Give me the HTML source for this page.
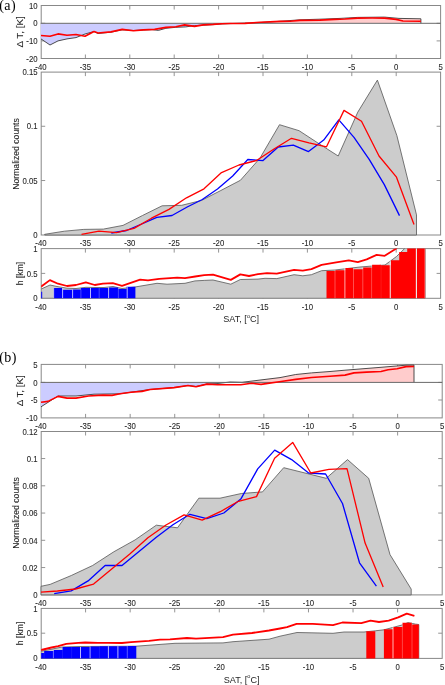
<!DOCTYPE html>
<html><head><meta charset="utf-8"><style>
html,body{margin:0;padding:0;background:#fff;width:445px;height:685px;overflow:hidden}
svg{display:block;filter:blur(0.3px)}
</style></head><body>
<svg width="445" height="685" viewBox="0 0 445 685">
<rect width="445" height="685" fill="#fff"/>
<path d="M85.40,58.5v-4M85.40,5.5v4M129.80,58.5v-4M129.80,5.5v4M174.20,58.5v-4M174.20,5.5v4M218.60,58.5v-4M218.60,5.5v4M263.00,58.5v-4M263.00,5.5v4M307.40,58.5v-4M307.40,5.5v4M351.80,58.5v-4M351.80,5.5v4M396.20,58.5v-4M396.20,5.5v4M41.2,23.30h4M440.6,23.30h-4M41.2,40.90h4M440.6,40.90h-4" stroke="#888888" stroke-width="0.9" fill="none"/>
<rect x="41.2" y="5.5" width="399.40" height="53.00" fill="none" stroke="#888888" stroke-width="1"/>
<clipPath id="c1"><rect x="40.6" y="5.5" width="399.40" height="17.80"/></clipPath>
<clipPath id="c2"><rect x="40.6" y="23.3" width="399.40" height="35.20"/></clipPath>
<polygon points="40.50,23.30 40.50,38.90 41.00,38.90 50.00,45.00 58.00,40.90 67.00,38.90 76.00,37.60 85.00,34.00 94.00,31.50 98.00,33.50 111.00,32.20 122.20,29.80 133.40,30.50 143.40,30.00 152.00,29.60 158.40,30.40 165.90,28.30 175.80,27.30 185.80,26.90 194.50,25.60 203.30,25.20 213.20,24.60 222.00,23.90 230.00,23.60 260.00,22.60 280.00,21.30 300.00,19.80 320.00,19.20 340.00,18.40 357.60,17.40 384.50,17.10 399.00,18.40 420.90,18.80 420.90,23.30" fill="#ffcccc" clip-path="url(#c1)"/>
<polygon points="40.50,23.30 40.50,38.90 41.00,38.90 50.00,45.00 58.00,40.90 67.00,38.90 76.00,37.60 85.00,34.00 94.00,31.50 98.00,33.50 111.00,32.20 122.20,29.80 133.40,30.50 143.40,30.00 152.00,29.60 158.40,30.40 165.90,28.30 175.80,27.30 185.80,26.90 194.50,25.60 203.30,25.20 213.20,24.60 222.00,23.90 230.00,23.60 260.00,22.60 280.00,21.30 300.00,19.80 320.00,19.20 340.00,18.40 357.60,17.40 384.50,17.10 399.00,18.40 420.90,18.80 420.90,23.30" fill="#ccccff" clip-path="url(#c2)"/>
<polyline points="41.00,38.90 50.00,45.00 58.00,40.90 67.00,38.90 76.00,37.60 85.00,34.00 94.00,31.50 98.00,33.50 111.00,32.20 122.20,29.80 133.40,30.50 143.40,30.00 152.00,29.60 158.40,30.40 165.90,28.30 175.80,27.30 185.80,26.90 194.50,25.60 203.30,25.20 213.20,24.60 222.00,23.90 230.00,23.60 260.00,22.60 280.00,21.30 300.00,19.80 320.00,19.20 340.00,18.40 357.60,17.40 384.50,17.10 399.00,18.40 420.90,18.80 420.90,23.30" fill="none" stroke="#3a3a3a" stroke-width="0.9"/>
<line x1="40.7" y1="23.3" x2="440.6" y2="23.3" stroke="#6a6a6a" stroke-width="1"/>
<polyline points="41.00,35.50 50.00,36.20 58.00,33.90 67.00,35.30 76.00,34.50 85.00,36.20 94.00,31.50 98.00,33.00 111.00,31.90 122.20,29.40 133.40,30.70 143.40,29.90 154.60,29.40 165.90,27.40 175.80,26.70 184.60,24.90 194.50,26.40 203.30,24.90 213.20,24.40 222.00,23.70 230.00,23.50 245.00,23.40 260.00,22.30 280.00,21.40 290.00,21.20 300.00,20.40 320.00,20.10 335.00,19.40 345.00,19.00 357.60,18.10 372.00,18.00 384.50,18.10 396.00,19.40 403.00,21.00 420.90,21.20" fill="none" stroke="#ff0000" stroke-width="1.6" stroke-linejoin="round"/>
<text x="0" y="0" font-size="7.8" text-anchor="end" dominant-baseline="central" font-family="Liberation Sans" fill="#262626" stroke="#262626" stroke-width="0.08" transform="translate(37.60 5.50) scale(1 1.15)">10</text>
<text x="0" y="0" font-size="7.8" text-anchor="end" dominant-baseline="central" font-family="Liberation Sans" fill="#262626" stroke="#262626" stroke-width="0.08" transform="translate(37.60 23.20) scale(1 1.15)">0</text>
<text x="0" y="0" font-size="7.8" text-anchor="end" dominant-baseline="central" font-family="Liberation Sans" fill="#262626" stroke="#262626" stroke-width="0.08" transform="translate(37.60 40.90) scale(1 1.15)">-10</text>
<text x="0" y="0" font-size="7.8" text-anchor="end" dominant-baseline="central" font-family="Liberation Sans" fill="#262626" stroke="#262626" stroke-width="0.08" transform="translate(37.60 58.50) scale(1 1.15)">-20</text>
<text x="0" y="0" font-size="8.4" text-anchor="middle" dominant-baseline="central" font-family="Liberation Sans" fill="#262626" stroke="#262626" stroke-width="0.08" transform="translate(20.00 31.90) scale(1 1.17) rotate(-90)">&#916; T, [K]</text>
<text x="0" y="0" font-size="7.8" text-anchor="middle" dominant-baseline="central" font-family="Liberation Sans" fill="#262626" stroke="#262626" stroke-width="0.08" transform="translate(41.00 67.00) scale(1 1.15)">-40</text>
<text x="0" y="0" font-size="7.8" text-anchor="middle" dominant-baseline="central" font-family="Liberation Sans" fill="#262626" stroke="#262626" stroke-width="0.08" transform="translate(85.40 67.00) scale(1 1.15)">-35</text>
<text x="0" y="0" font-size="7.8" text-anchor="middle" dominant-baseline="central" font-family="Liberation Sans" fill="#262626" stroke="#262626" stroke-width="0.08" transform="translate(129.80 67.00) scale(1 1.15)">-30</text>
<text x="0" y="0" font-size="7.8" text-anchor="middle" dominant-baseline="central" font-family="Liberation Sans" fill="#262626" stroke="#262626" stroke-width="0.08" transform="translate(174.20 67.00) scale(1 1.15)">-25</text>
<text x="0" y="0" font-size="7.8" text-anchor="middle" dominant-baseline="central" font-family="Liberation Sans" fill="#262626" stroke="#262626" stroke-width="0.08" transform="translate(218.60 67.00) scale(1 1.15)">-20</text>
<text x="0" y="0" font-size="7.8" text-anchor="middle" dominant-baseline="central" font-family="Liberation Sans" fill="#262626" stroke="#262626" stroke-width="0.08" transform="translate(263.00 67.00) scale(1 1.15)">-15</text>
<text x="0" y="0" font-size="7.8" text-anchor="middle" dominant-baseline="central" font-family="Liberation Sans" fill="#262626" stroke="#262626" stroke-width="0.08" transform="translate(307.40 67.00) scale(1 1.15)">-10</text>
<text x="0" y="0" font-size="7.8" text-anchor="middle" dominant-baseline="central" font-family="Liberation Sans" fill="#262626" stroke="#262626" stroke-width="0.08" transform="translate(351.80 67.00) scale(1 1.15)">-5</text>
<text x="0" y="0" font-size="7.8" text-anchor="middle" dominant-baseline="central" font-family="Liberation Sans" fill="#262626" stroke="#262626" stroke-width="0.08" transform="translate(396.20 67.00) scale(1 1.15)">0</text>
<text x="0" y="0" font-size="7.8" text-anchor="middle" dominant-baseline="central" font-family="Liberation Sans" fill="#262626" stroke="#262626" stroke-width="0.08" transform="translate(440.60 67.00) scale(1 1.15)">5</text>
<text x="0" y="0" font-size="14" text-anchor="start" dominant-baseline="central" font-family="Liberation Serif" fill="#000" transform="translate(-0.80 5.40) scale(1 1.0)" letter-spacing="0.5">(a)</text>
<path d="M85.40,235.0v-4M85.40,72.1v4M129.80,235.0v-4M129.80,72.1v4M174.20,235.0v-4M174.20,72.1v4M218.60,235.0v-4M218.60,72.1v4M263.00,235.0v-4M263.00,72.1v4M307.40,235.0v-4M307.40,72.1v4M351.80,235.0v-4M351.80,72.1v4M396.20,235.0v-4M396.20,72.1v4M41.2,180.53h4M440.6,180.53h-4M41.2,126.27h4M440.6,126.27h-4" stroke="#888888" stroke-width="0.9" fill="none"/>
<rect x="41.2" y="72.1" width="399.40" height="162.90" fill="none" stroke="#888888" stroke-width="1"/>
<polygon points="44.70,235.00 44.70,234.30 64.30,231.20 83.80,229.40 103.40,229.10 123.00,225.40 142.50,215.50 162.10,205.80 181.70,205.30 201.30,200.50 220.80,190.50 240.40,180.30 260.00,158.10 279.50,124.70 299.10,130.70 318.70,143.50 338.20,156.00 357.80,112.10 377.40,80.10 396.90,135.70 416.50,214.90 416.50,235.00" fill="#cccccc" stroke="#555555" stroke-width="0.8"/>
<polyline points="111.30,233.00 126.50,230.50 141.70,224.00 156.80,217.30 172.00,215.50 187.20,207.00 202.30,199.50 217.50,189.00 232.70,176.00 247.80,159.50 263.00,160.60 278.20,147.00 293.30,145.20 308.50,151.60 323.70,140.10 338.80,119.90 354.00,137.40 369.20,159.30 384.30,184.60 399.50,215.60" fill="none" stroke="#0000ff" stroke-width="1.3" stroke-linejoin="round"/>
<polyline points="81.50,234.30 99.00,231.10 116.50,232.60 134.00,228.40 151.50,218.20 169.00,209.40 186.50,197.80 204.00,188.80 221.50,172.60 239.00,165.00 256.50,160.50 274.00,149.00 291.50,138.30 309.00,142.80 326.50,146.80 344.00,110.40 361.50,121.20 379.00,156.00 396.50,177.20 414.00,224.40" fill="none" stroke="#ff0000" stroke-width="1.3" stroke-linejoin="round"/>
<text x="0" y="0" font-size="7.8" text-anchor="end" dominant-baseline="central" font-family="Liberation Sans" fill="#262626" stroke="#262626" stroke-width="0.08" transform="translate(37.60 72.00) scale(1 1.15)">0.15</text>
<text x="0" y="0" font-size="7.8" text-anchor="end" dominant-baseline="central" font-family="Liberation Sans" fill="#262626" stroke="#262626" stroke-width="0.08" transform="translate(37.60 126.27) scale(1 1.15)">0.1</text>
<text x="0" y="0" font-size="7.8" text-anchor="end" dominant-baseline="central" font-family="Liberation Sans" fill="#262626" stroke="#262626" stroke-width="0.08" transform="translate(37.60 180.53) scale(1 1.15)">0.05</text>
<text x="0" y="0" font-size="7.8" text-anchor="end" dominant-baseline="central" font-family="Liberation Sans" fill="#262626" stroke="#262626" stroke-width="0.08" transform="translate(37.60 234.80) scale(1 1.15)">0</text>
<text x="0" y="0" font-size="8.65" text-anchor="middle" dominant-baseline="central" font-family="Liberation Sans" fill="#262626" stroke="#262626" stroke-width="0.08" transform="translate(15.80 154.00) scale(1 1.0) rotate(-90)">Normalized counts</text>
<text x="0" y="0" font-size="7.8" text-anchor="middle" dominant-baseline="central" font-family="Liberation Sans" fill="#262626" stroke="#262626" stroke-width="0.08" transform="translate(41.00 242.70) scale(1 1.15)">-40</text>
<text x="0" y="0" font-size="7.8" text-anchor="middle" dominant-baseline="central" font-family="Liberation Sans" fill="#262626" stroke="#262626" stroke-width="0.08" transform="translate(85.40 242.70) scale(1 1.15)">-35</text>
<text x="0" y="0" font-size="7.8" text-anchor="middle" dominant-baseline="central" font-family="Liberation Sans" fill="#262626" stroke="#262626" stroke-width="0.08" transform="translate(129.80 242.70) scale(1 1.15)">-30</text>
<text x="0" y="0" font-size="7.8" text-anchor="middle" dominant-baseline="central" font-family="Liberation Sans" fill="#262626" stroke="#262626" stroke-width="0.08" transform="translate(174.20 242.70) scale(1 1.15)">-25</text>
<text x="0" y="0" font-size="7.8" text-anchor="middle" dominant-baseline="central" font-family="Liberation Sans" fill="#262626" stroke="#262626" stroke-width="0.08" transform="translate(218.60 242.70) scale(1 1.15)">-20</text>
<text x="0" y="0" font-size="7.8" text-anchor="middle" dominant-baseline="central" font-family="Liberation Sans" fill="#262626" stroke="#262626" stroke-width="0.08" transform="translate(263.00 242.70) scale(1 1.15)">-15</text>
<text x="0" y="0" font-size="7.8" text-anchor="middle" dominant-baseline="central" font-family="Liberation Sans" fill="#262626" stroke="#262626" stroke-width="0.08" transform="translate(307.40 242.70) scale(1 1.15)">-10</text>
<text x="0" y="0" font-size="7.8" text-anchor="middle" dominant-baseline="central" font-family="Liberation Sans" fill="#262626" stroke="#262626" stroke-width="0.08" transform="translate(351.80 242.70) scale(1 1.15)">-5</text>
<text x="0" y="0" font-size="7.8" text-anchor="middle" dominant-baseline="central" font-family="Liberation Sans" fill="#262626" stroke="#262626" stroke-width="0.08" transform="translate(396.20 242.70) scale(1 1.15)">0</text>
<text x="0" y="0" font-size="7.8" text-anchor="middle" dominant-baseline="central" font-family="Liberation Sans" fill="#262626" stroke="#262626" stroke-width="0.08" transform="translate(440.60 242.70) scale(1 1.15)">5</text>
<path d="M85.40,298.3v-4M85.40,248.6v4M129.80,298.3v-4M129.80,248.6v4M174.20,298.3v-4M174.20,248.6v4M218.60,298.3v-4M218.60,248.6v4M263.00,298.3v-4M263.00,248.6v4M307.40,298.3v-4M307.40,248.6v4M351.80,298.3v-4M351.80,248.6v4M396.20,298.3v-4M396.20,248.6v4M41.2,273.40h4M440.6,273.40h-4" stroke="#888888" stroke-width="0.9" fill="none"/>
<rect x="41.2" y="248.6" width="399.40" height="49.70" fill="none" stroke="#888888" stroke-width="1"/>
<clipPath id="c3"><rect x="41.2" y="248.6" width="399.40" height="49.70"/></clipPath>
<g clip-path="url(#c3)">
<polygon points="41.00,298.30 41.00,289.10 50.00,285.00 58.00,286.70 67.00,288.20 76.00,288.50 86.00,287.30 95.00,287.50 104.00,287.50 113.00,286.50 122.00,288.50 135.00,287.00 157.00,283.30 167.00,284.20 185.00,283.30 195.00,280.90 204.20,280.40 213.00,280.00 230.80,284.20 240.30,279.50 258.00,279.10 265.00,278.30 276.80,278.60 294.10,274.70 302.80,275.80 311.40,274.70 321.60,270.70 335.00,270.00 360.00,267.00 385.00,265.00 396.50,256.50 405.20,248.00 425.20,248.00 425.20,298.30" fill="#cccccc" stroke="#555555" stroke-width="0.8"/>
<path d="M40.60,299.3L40.60,291.70L42.20,291.70L42.20,299.3ZM53.70,299.3L53.70,287.90L62.70,287.90L62.70,289.80L72.50,289.80L72.50,289.50L80.90,289.50L80.90,287.90L90.40,287.90L90.40,288.00L99.20,288.00L99.20,288.00L108.50,288.00L108.50,287.40L118.40,287.40L118.40,288.90L126.50,288.90L126.50,286.70L135.40,286.70L135.40,299.3Z" fill="#0000ff"/>
<path d="M326.50,299.3L326.50,271.10L335.30,271.10L335.30,270.20L345.20,270.20L345.20,268.00L353.30,268.00L353.30,269.30L363.10,269.30L363.10,267.50L372.10,267.50L372.10,264.80L381.10,264.80L381.10,265.30L390.40,265.30L390.40,299.3ZM390.90,299.3L390.90,260.20L399.20,260.20L399.20,252.10L407.20,252.10L407.20,248.00L416.00,248.00L416.00,299.3ZM417.00,299.3L417.00,248.00L425.20,248.00L425.20,299.3Z" fill="#ff0000"/>
<line x1="53.70" y1="287.90" x2="53.70" y2="298.3" stroke="#ffffff" stroke-opacity="0.5" stroke-width="0.9"/>
<line x1="62.60" y1="287.90" x2="62.60" y2="298.3" stroke="#ffffff" stroke-opacity="0.8" stroke-width="0.9"/>
<line x1="72.60" y1="289.50" x2="72.60" y2="298.3" stroke="#ffffff" stroke-opacity="0.8" stroke-width="0.9"/>
<line x1="80.90" y1="289.50" x2="80.90" y2="298.3" stroke="#ffffff" stroke-opacity="0.3" stroke-width="0.9"/>
<line x1="90.50" y1="287.90" x2="90.50" y2="298.3" stroke="#ffffff" stroke-opacity="0.8" stroke-width="0.9"/>
<line x1="99.20" y1="288.00" x2="99.20" y2="298.3" stroke="#ffffff" stroke-opacity="0.3" stroke-width="0.9"/>
<line x1="108.60" y1="287.40" x2="108.60" y2="298.3" stroke="#ffffff" stroke-opacity="0.8" stroke-width="0.9"/>
<line x1="118.40" y1="287.40" x2="118.40" y2="298.3" stroke="#ffffff" stroke-opacity="0.3" stroke-width="0.9"/>
<line x1="127.20" y1="286.70" x2="127.20" y2="298.3" stroke="#ffffff" stroke-opacity="0.8" stroke-width="0.9"/>
<line x1="335.00" y1="270.20" x2="335.00" y2="298.3" stroke="#ffffff" stroke-opacity="0.35" stroke-width="0.9"/>
<line x1="344.90" y1="268.00" x2="344.90" y2="298.3" stroke="#ffffff" stroke-opacity="0.75" stroke-width="0.9"/>
<line x1="353.50" y1="268.00" x2="353.50" y2="298.3" stroke="#ffffff" stroke-opacity="0.35" stroke-width="0.9"/>
<line x1="362.80" y1="267.50" x2="362.80" y2="298.3" stroke="#ffffff" stroke-opacity="0.35" stroke-width="0.9"/>
<line x1="371.60" y1="264.80" x2="371.60" y2="298.3" stroke="#ffffff" stroke-opacity="0.3" stroke-width="0.9"/>
<line x1="381.10" y1="264.80" x2="381.10" y2="298.3" stroke="#ffffff" stroke-opacity="0.1" stroke-width="0.9"/>
<line x1="390.20" y1="260.20" x2="390.20" y2="298.3" stroke="#ffffff" stroke-opacity="0.8" stroke-width="0.9"/>
<line x1="399.20" y1="252.10" x2="399.20" y2="298.3" stroke="#ffffff" stroke-opacity="0.0" stroke-width="0.9"/>
<line x1="407.20" y1="248.00" x2="407.20" y2="298.3" stroke="#ffffff" stroke-opacity="0.0" stroke-width="0.9"/>
<line x1="416.30" y1="248.00" x2="416.30" y2="298.3" stroke="#ffffff" stroke-opacity="0.8" stroke-width="0.9"/>
<line x1="425.00" y1="248.00" x2="425.00" y2="298.3" stroke="#ffffff" stroke-opacity="0.5" stroke-width="0.9"/>
<polyline points="41.00,286.70 49.90,280.10 58.00,283.70 67.00,286.00 76.00,285.00 85.80,282.40 94.80,285.00 102.90,283.70 112.80,283.10 122.00,285.80 140.10,279.70 148.00,280.40 159.20,278.80 177.20,277.70 185.00,278.10 195.20,276.50 204.20,275.20 213.00,274.60 230.80,279.90 240.30,274.40 249.00,276.00 258.00,274.20 267.00,273.10 276.80,273.60 294.10,269.90 302.80,270.70 311.40,269.20 321.60,264.80 336.20,262.40 348.80,260.30 357.80,262.10 366.70,259.40 376.60,254.90 384.70,255.80 395.50,249.00 397.00,248.00" fill="none" stroke="#ff0000" stroke-width="1.8" stroke-linejoin="round"/>
</g>
<text x="0" y="0" font-size="7.8" text-anchor="end" dominant-baseline="central" font-family="Liberation Sans" fill="#262626" stroke="#262626" stroke-width="0.08" transform="translate(37.60 248.80) scale(1 1.15)">1</text>
<text x="0" y="0" font-size="7.8" text-anchor="end" dominant-baseline="central" font-family="Liberation Sans" fill="#262626" stroke="#262626" stroke-width="0.08" transform="translate(37.60 273.40) scale(1 1.15)">0.5</text>
<text x="0" y="0" font-size="7.8" text-anchor="end" dominant-baseline="central" font-family="Liberation Sans" fill="#262626" stroke="#262626" stroke-width="0.08" transform="translate(37.60 298.00) scale(1 1.15)">0</text>
<text x="0" y="0" font-size="8.65" text-anchor="middle" dominant-baseline="central" font-family="Liberation Sans" fill="#262626" stroke="#262626" stroke-width="0.08" transform="translate(19.90 273.50) scale(1 1.0) rotate(-90)">h [km]</text>
<text x="0" y="0" font-size="7.8" text-anchor="middle" dominant-baseline="central" font-family="Liberation Sans" fill="#262626" stroke="#262626" stroke-width="0.08" transform="translate(41.00 306.40) scale(1 1.15)">-40</text>
<text x="0" y="0" font-size="7.8" text-anchor="middle" dominant-baseline="central" font-family="Liberation Sans" fill="#262626" stroke="#262626" stroke-width="0.08" transform="translate(85.40 306.40) scale(1 1.15)">-35</text>
<text x="0" y="0" font-size="7.8" text-anchor="middle" dominant-baseline="central" font-family="Liberation Sans" fill="#262626" stroke="#262626" stroke-width="0.08" transform="translate(129.80 306.40) scale(1 1.15)">-30</text>
<text x="0" y="0" font-size="7.8" text-anchor="middle" dominant-baseline="central" font-family="Liberation Sans" fill="#262626" stroke="#262626" stroke-width="0.08" transform="translate(174.20 306.40) scale(1 1.15)">-25</text>
<text x="0" y="0" font-size="7.8" text-anchor="middle" dominant-baseline="central" font-family="Liberation Sans" fill="#262626" stroke="#262626" stroke-width="0.08" transform="translate(218.60 306.40) scale(1 1.15)">-20</text>
<text x="0" y="0" font-size="7.8" text-anchor="middle" dominant-baseline="central" font-family="Liberation Sans" fill="#262626" stroke="#262626" stroke-width="0.08" transform="translate(263.00 306.40) scale(1 1.15)">-15</text>
<text x="0" y="0" font-size="7.8" text-anchor="middle" dominant-baseline="central" font-family="Liberation Sans" fill="#262626" stroke="#262626" stroke-width="0.08" transform="translate(307.40 306.40) scale(1 1.15)">-10</text>
<text x="0" y="0" font-size="7.8" text-anchor="middle" dominant-baseline="central" font-family="Liberation Sans" fill="#262626" stroke="#262626" stroke-width="0.08" transform="translate(351.80 306.40) scale(1 1.15)">-5</text>
<text x="0" y="0" font-size="7.8" text-anchor="middle" dominant-baseline="central" font-family="Liberation Sans" fill="#262626" stroke="#262626" stroke-width="0.08" transform="translate(396.20 306.40) scale(1 1.15)">0</text>
<text x="0" y="0" font-size="7.8" text-anchor="middle" dominant-baseline="central" font-family="Liberation Sans" fill="#262626" stroke="#262626" stroke-width="0.08" transform="translate(440.60 306.40) scale(1 1.15)">5</text>
<text x="241.20" y="318.90" font-size="9.1" text-anchor="middle" dominant-baseline="central" font-family="Liberation Sans" fill="#262626">SAT, [<tspan font-size="5.6" dy="-3.2">o</tspan><tspan dy="3.2">C]</tspan></text>
<path d="M85.58,417.9v-4M85.58,364.4v4M130.16,417.9v-4M130.16,364.4v4M174.73,417.9v-4M174.73,364.4v4M219.31,417.9v-4M219.31,364.4v4M263.89,417.9v-4M263.89,364.4v4M308.47,417.9v-4M308.47,364.4v4M353.04,417.9v-4M353.04,364.4v4M397.62,417.9v-4M397.62,364.4v4M41.2,382.40h4M442.2,382.40h-4M41.2,400.00h4M442.2,400.00h-4" stroke="#888888" stroke-width="0.9" fill="none"/>
<rect x="41.2" y="364.4" width="401.00" height="53.50" fill="none" stroke="#888888" stroke-width="1"/>
<clipPath id="c4"><rect x="40.6" y="364.4" width="401.00" height="18.00"/></clipPath>
<clipPath id="c5"><rect x="40.6" y="382.4" width="401.00" height="35.50"/></clipPath>
<polygon points="40.50,382.40 40.50,406.80 41.00,406.80 58.00,396.00 76.00,396.00 94.00,394.20 120.00,393.80 131.00,392.20 150.00,389.50 174.00,387.60 188.00,385.50 196.00,386.50 207.00,384.00 217.00,383.60 230.00,382.00 242.00,382.30 262.00,379.80 280.00,377.60 295.70,374.50 311.50,372.90 330.00,371.50 345.00,370.20 381.00,367.30 406.00,365.20 414.00,365.10 414.00,382.40" fill="#ffcccc" clip-path="url(#c4)"/>
<polygon points="40.50,382.40 40.50,406.80 41.00,406.80 58.00,396.00 76.00,396.00 94.00,394.20 120.00,393.80 131.00,392.20 150.00,389.50 174.00,387.60 188.00,385.50 196.00,386.50 207.00,384.00 217.00,383.60 230.00,382.00 242.00,382.30 262.00,379.80 280.00,377.60 295.70,374.50 311.50,372.90 330.00,371.50 345.00,370.20 381.00,367.30 406.00,365.20 414.00,365.10 414.00,382.40" fill="#ccccff" clip-path="url(#c5)"/>
<polyline points="41.00,406.80 58.00,396.00 76.00,396.00 94.00,394.20 120.00,393.80 131.00,392.20 150.00,389.50 174.00,387.60 188.00,385.50 196.00,386.50 207.00,384.00 217.00,383.60 230.00,382.00 242.00,382.30 262.00,379.80 280.00,377.60 295.70,374.50 311.50,372.90 330.00,371.50 345.00,370.20 381.00,367.30 406.00,365.20 414.00,365.10 414.00,382.40" fill="none" stroke="#3a3a3a" stroke-width="0.9"/>
<line x1="40.7" y1="382.4" x2="442.2" y2="382.4" stroke="#6a6a6a" stroke-width="1"/>
<polyline points="41.00,402.30 48.00,401.40 58.00,396.40 67.00,398.10 76.00,398.10 88.50,396.00 103.00,395.10 112.00,395.40 120.00,393.80 131.00,392.20 142.00,391.40 150.00,389.50 174.00,387.60 188.00,385.50 196.00,386.80 207.00,384.10 217.50,384.70 240.80,384.70 251.60,383.30 261.00,384.40 281.00,381.50 295.70,379.40 311.50,377.50 330.00,376.20 345.00,375.10 354.00,372.90 366.60,372.10 381.00,371.50 388.10,369.80 397.10,368.80 406.10,366.60 414.00,366.50" fill="none" stroke="#ff0000" stroke-width="1.6" stroke-linejoin="round"/>
<text x="0" y="0" font-size="7.8" text-anchor="end" dominant-baseline="central" font-family="Liberation Sans" fill="#262626" stroke="#262626" stroke-width="0.08" transform="translate(37.60 364.40) scale(1 1.15)">5</text>
<text x="0" y="0" font-size="7.8" text-anchor="end" dominant-baseline="central" font-family="Liberation Sans" fill="#262626" stroke="#262626" stroke-width="0.08" transform="translate(37.60 382.80) scale(1 1.15)">0</text>
<text x="0" y="0" font-size="7.8" text-anchor="end" dominant-baseline="central" font-family="Liberation Sans" fill="#262626" stroke="#262626" stroke-width="0.08" transform="translate(37.60 400.00) scale(1 1.15)">-5</text>
<text x="0" y="0" font-size="7.8" text-anchor="end" dominant-baseline="central" font-family="Liberation Sans" fill="#262626" stroke="#262626" stroke-width="0.08" transform="translate(37.60 417.70) scale(1 1.15)">-10</text>
<text x="0" y="0" font-size="8.4" text-anchor="middle" dominant-baseline="central" font-family="Liberation Sans" fill="#262626" stroke="#262626" stroke-width="0.08" transform="translate(20.00 390.80) scale(1 1.17) rotate(-90)">&#916; T, [K]</text>
<text x="0" y="0" font-size="7.8" text-anchor="middle" dominant-baseline="central" font-family="Liberation Sans" fill="#262626" stroke="#262626" stroke-width="0.08" transform="translate(41.00 426.00) scale(1 1.15)">-40</text>
<text x="0" y="0" font-size="7.8" text-anchor="middle" dominant-baseline="central" font-family="Liberation Sans" fill="#262626" stroke="#262626" stroke-width="0.08" transform="translate(85.58 426.00) scale(1 1.15)">-35</text>
<text x="0" y="0" font-size="7.8" text-anchor="middle" dominant-baseline="central" font-family="Liberation Sans" fill="#262626" stroke="#262626" stroke-width="0.08" transform="translate(130.16 426.00) scale(1 1.15)">-30</text>
<text x="0" y="0" font-size="7.8" text-anchor="middle" dominant-baseline="central" font-family="Liberation Sans" fill="#262626" stroke="#262626" stroke-width="0.08" transform="translate(174.73 426.00) scale(1 1.15)">-25</text>
<text x="0" y="0" font-size="7.8" text-anchor="middle" dominant-baseline="central" font-family="Liberation Sans" fill="#262626" stroke="#262626" stroke-width="0.08" transform="translate(219.31 426.00) scale(1 1.15)">-20</text>
<text x="0" y="0" font-size="7.8" text-anchor="middle" dominant-baseline="central" font-family="Liberation Sans" fill="#262626" stroke="#262626" stroke-width="0.08" transform="translate(263.89 426.00) scale(1 1.15)">-15</text>
<text x="0" y="0" font-size="7.8" text-anchor="middle" dominant-baseline="central" font-family="Liberation Sans" fill="#262626" stroke="#262626" stroke-width="0.08" transform="translate(308.47 426.00) scale(1 1.15)">-10</text>
<text x="0" y="0" font-size="7.8" text-anchor="middle" dominant-baseline="central" font-family="Liberation Sans" fill="#262626" stroke="#262626" stroke-width="0.08" transform="translate(353.04 426.00) scale(1 1.15)">-5</text>
<text x="0" y="0" font-size="7.8" text-anchor="middle" dominant-baseline="central" font-family="Liberation Sans" fill="#262626" stroke="#262626" stroke-width="0.08" transform="translate(397.62 426.00) scale(1 1.15)">0</text>
<text x="0" y="0" font-size="7.8" text-anchor="middle" dominant-baseline="central" font-family="Liberation Sans" fill="#262626" stroke="#262626" stroke-width="0.08" transform="translate(442.20 426.00) scale(1 1.15)">5</text>
<text x="0" y="0" font-size="14" text-anchor="start" dominant-baseline="central" font-family="Liberation Serif" fill="#000" transform="translate(-0.80 357.30) scale(1 1.0)" letter-spacing="0.5">(b)</text>
<path d="M85.58,594.9v-4M85.58,431.5v4M130.16,594.9v-4M130.16,431.5v4M174.73,594.9v-4M174.73,431.5v4M219.31,594.9v-4M219.31,431.5v4M263.89,594.9v-4M263.89,431.5v4M308.47,594.9v-4M308.47,431.5v4M353.04,594.9v-4M353.04,431.5v4M397.62,594.9v-4M397.62,431.5v4M41.2,567.55h4M442.2,567.55h-4M41.2,540.30h4M442.2,540.30h-4M41.2,513.05h4M442.2,513.05h-4M41.2,485.80h4M442.2,485.80h-4M41.2,458.55h4M442.2,458.55h-4" stroke="#888888" stroke-width="0.9" fill="none"/>
<rect x="41.2" y="431.5" width="401.00" height="163.40" fill="none" stroke="#888888" stroke-width="1"/>
<polygon points="41.00,594.90 41.00,586.30 50.10,584.40 71.30,575.50 92.60,565.50 113.80,551.80 135.10,539.90 156.30,525.20 177.50,527.80 198.80,498.20 220.00,498.20 241.30,493.50 262.50,491.90 283.70,467.70 305.00,473.00 326.20,478.30 347.50,459.60 368.70,478.30 390.00,554.60 411.20,589.10 411.20,594.90" fill="#cccccc" stroke="#555555" stroke-width="0.8"/>
<polyline points="54.20,593.60 71.20,590.90 88.10,580.90 105.10,565.50 122.00,565.50 139.00,551.50 156.00,537.50 172.90,524.80 189.90,514.30 206.80,518.60 223.80,513.00 240.80,499.10 257.70,468.90 274.70,450.10 291.60,459.60 308.60,473.00 325.60,474.00 342.50,503.50 359.50,562.80 376.40,586.20" fill="none" stroke="#0000ff" stroke-width="1.3" stroke-linejoin="round"/>
<polyline points="41.00,592.20 57.40,591.00 75.50,589.00 93.60,584.10 111.70,569.00 129.80,554.00 147.90,537.80 166.00,525.00 184.10,514.90 202.20,520.20 220.30,511.70 238.40,501.30 256.50,496.60 274.60,458.20 292.70,442.40 310.80,473.00 328.90,469.40 347.00,468.60 365.10,543.10 383.20,586.90" fill="none" stroke="#ff0000" stroke-width="1.3" stroke-linejoin="round"/>
<text x="0" y="0" font-size="7.8" text-anchor="end" dominant-baseline="central" font-family="Liberation Sans" fill="#262626" stroke="#262626" stroke-width="0.08" transform="translate(37.60 431.30) scale(1 1.15)">0.12</text>
<text x="0" y="0" font-size="7.8" text-anchor="end" dominant-baseline="central" font-family="Liberation Sans" fill="#262626" stroke="#262626" stroke-width="0.08" transform="translate(37.60 458.55) scale(1 1.15)">0.1</text>
<text x="0" y="0" font-size="7.8" text-anchor="end" dominant-baseline="central" font-family="Liberation Sans" fill="#262626" stroke="#262626" stroke-width="0.08" transform="translate(37.60 485.80) scale(1 1.15)">0.08</text>
<text x="0" y="0" font-size="7.8" text-anchor="end" dominant-baseline="central" font-family="Liberation Sans" fill="#262626" stroke="#262626" stroke-width="0.08" transform="translate(37.60 513.05) scale(1 1.15)">0.06</text>
<text x="0" y="0" font-size="7.8" text-anchor="end" dominant-baseline="central" font-family="Liberation Sans" fill="#262626" stroke="#262626" stroke-width="0.08" transform="translate(37.60 540.30) scale(1 1.15)">0.04</text>
<text x="0" y="0" font-size="7.8" text-anchor="end" dominant-baseline="central" font-family="Liberation Sans" fill="#262626" stroke="#262626" stroke-width="0.08" transform="translate(37.60 567.55) scale(1 1.15)">0.02</text>
<text x="0" y="0" font-size="7.8" text-anchor="end" dominant-baseline="central" font-family="Liberation Sans" fill="#262626" stroke="#262626" stroke-width="0.08" transform="translate(37.60 594.80) scale(1 1.15)">0</text>
<text x="0" y="0" font-size="8.65" text-anchor="middle" dominant-baseline="central" font-family="Liberation Sans" fill="#262626" stroke="#262626" stroke-width="0.08" transform="translate(15.80 513.00) scale(1 1.0) rotate(-90)">Normalized counts</text>
<text x="0" y="0" font-size="7.8" text-anchor="middle" dominant-baseline="central" font-family="Liberation Sans" fill="#262626" stroke="#262626" stroke-width="0.08" transform="translate(41.00 602.40) scale(1 1.15)">-40</text>
<text x="0" y="0" font-size="7.8" text-anchor="middle" dominant-baseline="central" font-family="Liberation Sans" fill="#262626" stroke="#262626" stroke-width="0.08" transform="translate(85.58 602.40) scale(1 1.15)">-35</text>
<text x="0" y="0" font-size="7.8" text-anchor="middle" dominant-baseline="central" font-family="Liberation Sans" fill="#262626" stroke="#262626" stroke-width="0.08" transform="translate(130.16 602.40) scale(1 1.15)">-30</text>
<text x="0" y="0" font-size="7.8" text-anchor="middle" dominant-baseline="central" font-family="Liberation Sans" fill="#262626" stroke="#262626" stroke-width="0.08" transform="translate(174.73 602.40) scale(1 1.15)">-25</text>
<text x="0" y="0" font-size="7.8" text-anchor="middle" dominant-baseline="central" font-family="Liberation Sans" fill="#262626" stroke="#262626" stroke-width="0.08" transform="translate(219.31 602.40) scale(1 1.15)">-20</text>
<text x="0" y="0" font-size="7.8" text-anchor="middle" dominant-baseline="central" font-family="Liberation Sans" fill="#262626" stroke="#262626" stroke-width="0.08" transform="translate(263.89 602.40) scale(1 1.15)">-15</text>
<text x="0" y="0" font-size="7.8" text-anchor="middle" dominant-baseline="central" font-family="Liberation Sans" fill="#262626" stroke="#262626" stroke-width="0.08" transform="translate(308.47 602.40) scale(1 1.15)">-10</text>
<text x="0" y="0" font-size="7.8" text-anchor="middle" dominant-baseline="central" font-family="Liberation Sans" fill="#262626" stroke="#262626" stroke-width="0.08" transform="translate(353.04 602.40) scale(1 1.15)">-5</text>
<text x="0" y="0" font-size="7.8" text-anchor="middle" dominant-baseline="central" font-family="Liberation Sans" fill="#262626" stroke="#262626" stroke-width="0.08" transform="translate(397.62 602.40) scale(1 1.15)">0</text>
<text x="0" y="0" font-size="7.8" text-anchor="middle" dominant-baseline="central" font-family="Liberation Sans" fill="#262626" stroke="#262626" stroke-width="0.08" transform="translate(442.20 602.40) scale(1 1.15)">5</text>
<path d="M85.58,658.4v-4M85.58,608.4v4M130.16,658.4v-4M130.16,608.4v4M174.73,658.4v-4M174.73,608.4v4M219.31,658.4v-4M219.31,608.4v4M263.89,658.4v-4M263.89,608.4v4M308.47,658.4v-4M308.47,608.4v4M353.04,658.4v-4M353.04,608.4v4M397.62,658.4v-4M397.62,608.4v4M41.2,633.20h4M442.2,633.20h-4" stroke="#888888" stroke-width="0.9" fill="none"/>
<rect x="41.2" y="608.4" width="401.00" height="50.00" fill="none" stroke="#888888" stroke-width="1"/>
<clipPath id="c6"><rect x="41.2" y="608.4" width="401.00" height="50.00"/></clipPath>
<g clip-path="url(#c6)">
<polygon points="41.00,658.40 41.00,651.30 50.00,649.50 62.00,647.00 80.00,646.50 136.00,646.20 175.00,643.30 223.00,642.90 233.00,641.70 269.00,639.20 280.00,636.20 297.00,632.50 333.00,633.30 344.00,632.00 364.00,632.00 375.30,630.80 384.00,629.80 402.00,625.00 408.00,622.60 415.40,624.10 418.80,624.50 418.80,658.40" fill="#cccccc" stroke="#555555" stroke-width="0.8"/>
<path d="M41.00,659.4L41.00,652.90L44.10,652.90L44.10,650.90L53.50,650.90L53.50,650.00L62.50,650.00L62.50,647.10L71.60,647.10L71.60,646.90L80.50,646.90L80.50,646.90L90.30,646.90L90.30,646.50L99.50,646.50L99.50,646.30L108.50,646.30L108.50,646.20L118.00,646.20L118.00,646.20L127.40,646.20L127.40,646.00L136.30,646.00L136.30,659.4Z" fill="#0000ff"/>
<path d="M366.30,659.4L366.30,631.20L375.30,631.20L375.30,659.4ZM383.90,659.4L383.90,629.30L393.00,629.30L393.00,627.00L402.40,627.00L402.40,622.80L412.00,622.80L412.00,624.50L418.80,624.50L418.80,659.4Z" fill="#ff0000"/>
<line x1="44.10" y1="650.90" x2="44.10" y2="658.4" stroke="#ffffff" stroke-opacity="0.1" stroke-width="0.9"/>
<line x1="53.40" y1="650.00" x2="53.40" y2="658.4" stroke="#ffffff" stroke-opacity="0.5" stroke-width="0.9"/>
<line x1="62.50" y1="647.10" x2="62.50" y2="658.4" stroke="#ffffff" stroke-opacity="0.1" stroke-width="0.9"/>
<line x1="71.60" y1="646.90" x2="71.60" y2="658.4" stroke="#ffffff" stroke-opacity="0.1" stroke-width="0.9"/>
<line x1="80.50" y1="646.90" x2="80.50" y2="658.4" stroke="#ffffff" stroke-opacity="0.8" stroke-width="0.9"/>
<line x1="90.10" y1="646.50" x2="90.10" y2="658.4" stroke="#ffffff" stroke-opacity="0.7" stroke-width="0.9"/>
<line x1="99.50" y1="646.30" x2="99.50" y2="658.4" stroke="#ffffff" stroke-opacity="0.1" stroke-width="0.9"/>
<line x1="108.40" y1="646.20" x2="108.40" y2="658.4" stroke="#ffffff" stroke-opacity="0.8" stroke-width="0.9"/>
<line x1="117.90" y1="646.20" x2="117.90" y2="658.4" stroke="#ffffff" stroke-opacity="0.8" stroke-width="0.9"/>
<line x1="127.30" y1="646.00" x2="127.30" y2="658.4" stroke="#ffffff" stroke-opacity="0.4" stroke-width="0.9"/>
<line x1="393.00" y1="627.00" x2="393.00" y2="658.4" stroke="#ffffff" stroke-opacity="0.8" stroke-width="0.9"/>
<line x1="402.40" y1="622.80" x2="402.40" y2="658.4" stroke="#ffffff" stroke-opacity="0.3" stroke-width="0.9"/>
<line x1="412.00" y1="622.80" x2="412.00" y2="658.4" stroke="#ffffff" stroke-opacity="0.3" stroke-width="0.9"/>
<polyline points="41.00,650.00 51.50,647.50 58.20,646.20 66.30,643.80 78.40,642.80 85.20,642.50 98.00,642.80 108.00,642.80 122.00,643.00 131.00,642.10 149.00,640.80 160.00,639.70 170.00,639.40 187.00,638.00 196.00,638.70 223.00,637.20 233.00,634.70 252.00,633.00 269.00,630.50 280.00,628.50 287.00,627.10 296.60,623.90 312.80,623.90 333.00,625.20 342.40,622.50 361.30,623.20 370.50,620.70 379.00,622.00 388.70,620.70 398.20,617.40 406.80,613.60 414.40,615.90" fill="none" stroke="#ff0000" stroke-width="1.8" stroke-linejoin="round"/>
</g>
<text x="0" y="0" font-size="7.8" text-anchor="end" dominant-baseline="central" font-family="Liberation Sans" fill="#262626" stroke="#262626" stroke-width="0.08" transform="translate(37.60 608.40) scale(1 1.15)">1</text>
<text x="0" y="0" font-size="7.8" text-anchor="end" dominant-baseline="central" font-family="Liberation Sans" fill="#262626" stroke="#262626" stroke-width="0.08" transform="translate(37.60 633.20) scale(1 1.15)">0.5</text>
<text x="0" y="0" font-size="7.8" text-anchor="end" dominant-baseline="central" font-family="Liberation Sans" fill="#262626" stroke="#262626" stroke-width="0.08" transform="translate(37.60 658.00) scale(1 1.15)">0</text>
<text x="0" y="0" font-size="8.65" text-anchor="middle" dominant-baseline="central" font-family="Liberation Sans" fill="#262626" stroke="#262626" stroke-width="0.08" transform="translate(19.90 633.40) scale(1 1.0) rotate(-90)">h [km]</text>
<text x="0" y="0" font-size="7.8" text-anchor="middle" dominant-baseline="central" font-family="Liberation Sans" fill="#262626" stroke="#262626" stroke-width="0.08" transform="translate(41.00 666.30) scale(1 1.15)">-40</text>
<text x="0" y="0" font-size="7.8" text-anchor="middle" dominant-baseline="central" font-family="Liberation Sans" fill="#262626" stroke="#262626" stroke-width="0.08" transform="translate(85.58 666.30) scale(1 1.15)">-35</text>
<text x="0" y="0" font-size="7.8" text-anchor="middle" dominant-baseline="central" font-family="Liberation Sans" fill="#262626" stroke="#262626" stroke-width="0.08" transform="translate(130.16 666.30) scale(1 1.15)">-30</text>
<text x="0" y="0" font-size="7.8" text-anchor="middle" dominant-baseline="central" font-family="Liberation Sans" fill="#262626" stroke="#262626" stroke-width="0.08" transform="translate(174.73 666.30) scale(1 1.15)">-25</text>
<text x="0" y="0" font-size="7.8" text-anchor="middle" dominant-baseline="central" font-family="Liberation Sans" fill="#262626" stroke="#262626" stroke-width="0.08" transform="translate(219.31 666.30) scale(1 1.15)">-20</text>
<text x="0" y="0" font-size="7.8" text-anchor="middle" dominant-baseline="central" font-family="Liberation Sans" fill="#262626" stroke="#262626" stroke-width="0.08" transform="translate(263.89 666.30) scale(1 1.15)">-15</text>
<text x="0" y="0" font-size="7.8" text-anchor="middle" dominant-baseline="central" font-family="Liberation Sans" fill="#262626" stroke="#262626" stroke-width="0.08" transform="translate(308.47 666.30) scale(1 1.15)">-10</text>
<text x="0" y="0" font-size="7.8" text-anchor="middle" dominant-baseline="central" font-family="Liberation Sans" fill="#262626" stroke="#262626" stroke-width="0.08" transform="translate(353.04 666.30) scale(1 1.15)">-5</text>
<text x="0" y="0" font-size="7.8" text-anchor="middle" dominant-baseline="central" font-family="Liberation Sans" fill="#262626" stroke="#262626" stroke-width="0.08" transform="translate(397.62 666.30) scale(1 1.15)">0</text>
<text x="0" y="0" font-size="7.8" text-anchor="middle" dominant-baseline="central" font-family="Liberation Sans" fill="#262626" stroke="#262626" stroke-width="0.08" transform="translate(442.20 666.30) scale(1 1.15)">5</text>
<text x="241.60" y="679.50" font-size="9.1" text-anchor="middle" dominant-baseline="central" font-family="Liberation Sans" fill="#262626">SAT, [<tspan font-size="5.6" dy="-3.2">o</tspan><tspan dy="3.2">C]</tspan></text>
</svg>
</body></html>
